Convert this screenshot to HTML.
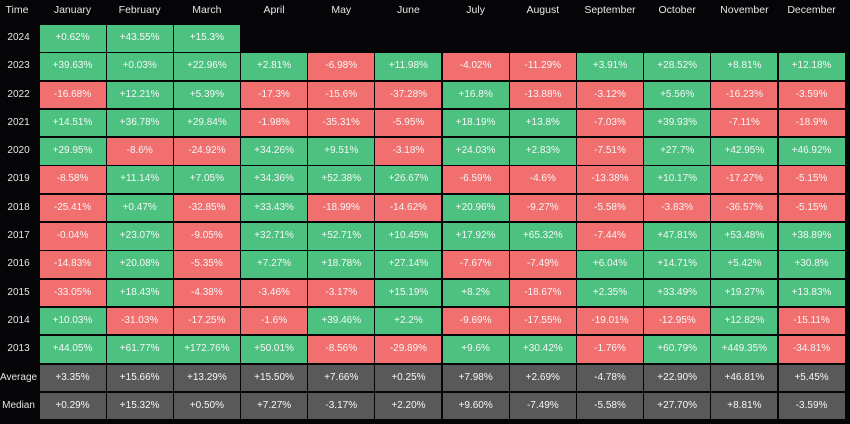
<!DOCTYPE html>
<html><head><meta charset="utf-8"><style>
*{margin:0;padding:0;box-sizing:border-box}
html,body{width:850px;height:424px;background:#050508;overflow:hidden;font-family:"Liberation Sans",sans-serif}
.hdr{position:absolute;left:39.5px;top:0;display:grid;grid-template-columns:repeat(12,66px);column-gap:1.2px;height:21px}
.hdr div{text-align:center;color:#e6e6e6;font-size:10.5px;line-height:21px}
.time{position:absolute;left:0;top:0;width:34px;text-align:center;color:#e6e6e6;font-size:10.5px;line-height:21px}
.lab{position:absolute;left:0;top:25px;width:34px;display:grid;grid-template-rows:repeat(14,26.5px);row-gap:1.8px}
.lab div{text-align:center;color:#e6e6e6;font-size:10px;line-height:26.5px;white-space:nowrap}
.g{position:absolute;left:39.5px;top:25px;display:grid;grid-template-columns:repeat(12,66px);grid-template-rows:repeat(14,26.5px);column-gap:1.2px;row-gap:1.8px}
.g div{text-align:center;color:#f7f7f7;font-size:10px;line-height:26.5px;white-space:nowrap}
.p{background:#4dc180}
.n{background:#f16f6e}
.s{background:#595959}
.e{background:transparent}
</style></head><body>
<div class="time">Time</div>
<div class="hdr">
<div>January</div><div>February</div><div>March</div><div>April</div><div>May</div><div>June</div><div>July</div><div>August</div><div>September</div><div>October</div><div>November</div><div>December</div>
</div>
<div class="lab">
<div>2024</div><div>2023</div><div>2022</div><div>2021</div><div>2020</div><div>2019</div><div>2018</div><div>2017</div><div>2016</div><div>2015</div><div>2014</div><div>2013</div><div>Average</div><div>Median</div>
</div>
<div class="g">
<div class="p">+0.62%</div><div class="p">+43.55%</div><div class="p">+15.3%</div><div class="e"></div><div class="e"></div><div class="e"></div><div class="e"></div><div class="e"></div><div class="e"></div><div class="e"></div><div class="e"></div><div class="e"></div>

<div class="p">+39.63%</div><div class="p">+0.03%</div><div class="p">+22.96%</div><div class="p">+2.81%</div><div class="n">-6.98%</div><div class="p">+11.98%</div><div class="n">-4.02%</div><div class="n">-11.29%</div><div class="p">+3.91%</div><div class="p">+28.52%</div><div class="p">+8.81%</div><div class="p">+12.18%</div>

<div class="n">-16.68%</div><div class="p">+12.21%</div><div class="p">+5.39%</div><div class="n">-17.3%</div><div class="n">-15.6%</div><div class="n">-37.28%</div><div class="p">+16.8%</div><div class="n">-13.88%</div><div class="n">-3.12%</div><div class="p">+5.56%</div><div class="n">-16.23%</div><div class="n">-3.59%</div>

<div class="p">+14.51%</div><div class="p">+36.78%</div><div class="p">+29.84%</div><div class="n">-1.98%</div><div class="n">-35.31%</div><div class="n">-5.95%</div><div class="p">+18.19%</div><div class="p">+13.8%</div><div class="n">-7.03%</div><div class="p">+39.93%</div><div class="n">-7.11%</div><div class="n">-18.9%</div>

<div class="p">+29.95%</div><div class="n">-8.6%</div><div class="n">-24.92%</div><div class="p">+34.26%</div><div class="p">+9.51%</div><div class="n">-3.18%</div><div class="p">+24.03%</div><div class="p">+2.83%</div><div class="n">-7.51%</div><div class="p">+27.7%</div><div class="p">+42.95%</div><div class="p">+46.92%</div>

<div class="n">-8.58%</div><div class="p">+11.14%</div><div class="p">+7.05%</div><div class="p">+34.36%</div><div class="p">+52.38%</div><div class="p">+26.67%</div><div class="n">-6.59%</div><div class="n">-4.6%</div><div class="n">-13.38%</div><div class="p">+10.17%</div><div class="n">-17.27%</div><div class="n">-5.15%</div>

<div class="n">-25.41%</div><div class="p">+0.47%</div><div class="n">-32.85%</div><div class="p">+33.43%</div><div class="n">-18.99%</div><div class="n">-14.62%</div><div class="p">+20.96%</div><div class="n">-9.27%</div><div class="n">-5.58%</div><div class="n">-3.83%</div><div class="n">-36.57%</div><div class="n">-5.15%</div>

<div class="n">-0.04%</div><div class="p">+23.07%</div><div class="n">-9.05%</div><div class="p">+32.71%</div><div class="p">+52.71%</div><div class="p">+10.45%</div><div class="p">+17.92%</div><div class="p">+65.32%</div><div class="n">-7.44%</div><div class="p">+47.81%</div><div class="p">+53.48%</div><div class="p">+38.89%</div>

<div class="n">-14.83%</div><div class="p">+20.08%</div><div class="n">-5.35%</div><div class="p">+7.27%</div><div class="p">+18.78%</div><div class="p">+27.14%</div><div class="n">-7.67%</div><div class="n">-7.49%</div><div class="p">+6.04%</div><div class="p">+14.71%</div><div class="p">+5.42%</div><div class="p">+30.8%</div>

<div class="n">-33.05%</div><div class="p">+18.43%</div><div class="n">-4.38%</div><div class="n">-3.46%</div><div class="n">-3.17%</div><div class="p">+15.19%</div><div class="p">+8.2%</div><div class="n">-18.67%</div><div class="p">+2.35%</div><div class="p">+33.49%</div><div class="p">+19.27%</div><div class="p">+13.83%</div>

<div class="p">+10.03%</div><div class="n">-31.03%</div><div class="n">-17.25%</div><div class="n">-1.6%</div><div class="p">+39.46%</div><div class="p">+2.2%</div><div class="n">-9.69%</div><div class="n">-17.55%</div><div class="n">-19.01%</div><div class="n">-12.95%</div><div class="p">+12.82%</div><div class="n">-15.11%</div>

<div class="p">+44.05%</div><div class="p">+61.77%</div><div class="p">+172.76%</div><div class="p">+50.01%</div><div class="n">-8.56%</div><div class="n">-29.89%</div><div class="p">+9.6%</div><div class="p">+30.42%</div><div class="n">-1.76%</div><div class="p">+60.79%</div><div class="p">+449.35%</div><div class="n">-34.81%</div>

<div class="s">+3.35%</div><div class="s">+15.66%</div><div class="s">+13.29%</div><div class="s">+15.50%</div><div class="s">+7.66%</div><div class="s">+0.25%</div><div class="s">+7.98%</div><div class="s">+2.69%</div><div class="s">-4.78%</div><div class="s">+22.90%</div><div class="s">+46.81%</div><div class="s">+5.45%</div>

<div class="s">+0.29%</div><div class="s">+15.32%</div><div class="s">+0.50%</div><div class="s">+7.27%</div><div class="s">-3.17%</div><div class="s">+2.20%</div><div class="s">+9.60%</div><div class="s">-7.49%</div><div class="s">-5.58%</div><div class="s">+27.70%</div><div class="s">+8.81%</div><div class="s">-3.59%</div>
</div>
</body></html>
